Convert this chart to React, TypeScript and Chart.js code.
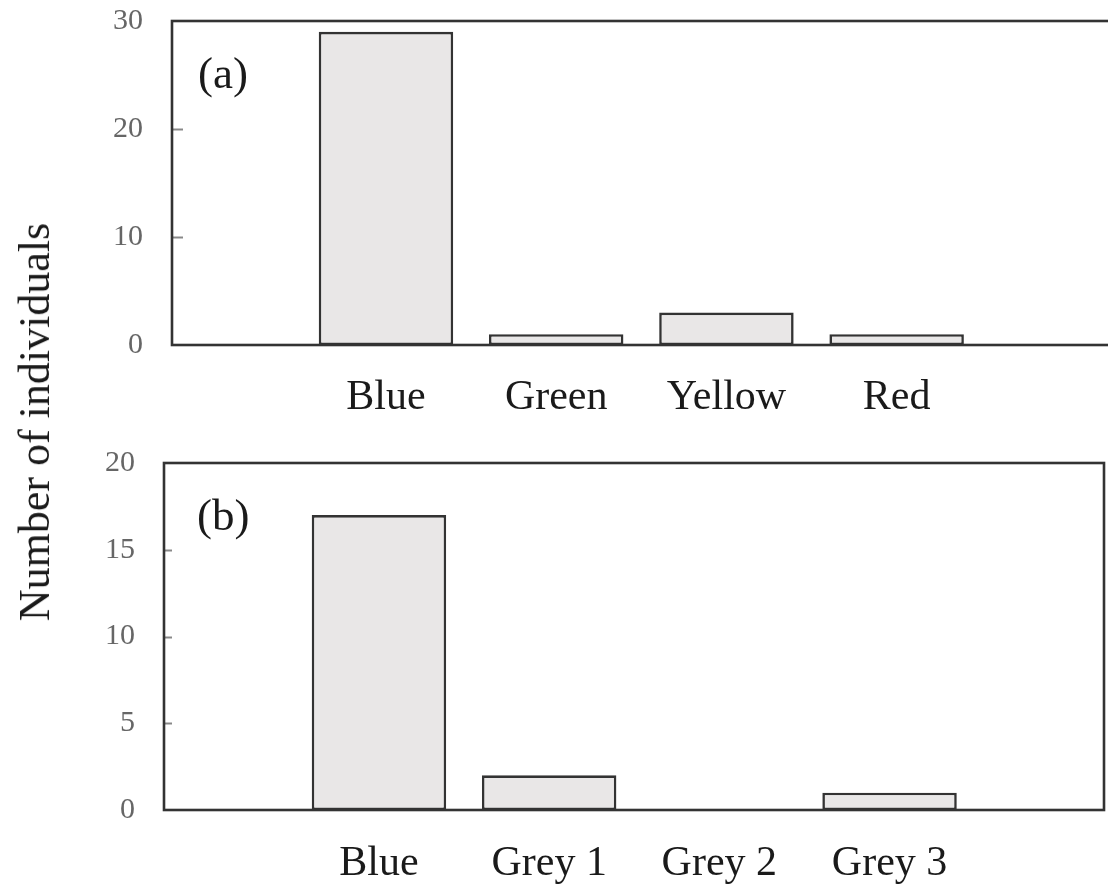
import React, { useEffect, useRef } from "react";
import { Chart, registerables } from "chart.js";

Chart.register(...registerables);

const topCategories = ["Blue", "Green", "Yellow", "Red"];
const topValues = [29, 1, 3, 1];
const topYTicks = [0, 10, 20, 30];

const bottomCategories = ["Blue", "Grey 1", "Grey 2", "Grey 3"];
const bottomValues = [17, 2, 0, 1];
const bottomYTicks = [0, 5, 10, 15, 20];

const yAxisTitle = "Number of individuals";
const panelLabels = ["(a)", "(b)"];

const SERIF = '"Liberation Serif", "Times New Roman", serif';

type PanelProps = {
  categories: string[];
  values: number[];
  yTicks: number[];
  label: string;
  labelDx: number;
  labelDy: number;
  xMin: number;
  xMax: number;
  width: number;
  height: number;
  left: number;
  top: number;
  padTop: number;
  padRight: number;
  yAxisWidth: number;
  xAxisHeight: number;
  xTickPad: number;
  innerTick: number;
};

function Panel(p: PanelProps) {
  const ref = useRef<HTMLCanvasElement | null>(null);
  useEffect(() => {
    if (!ref.current) return;
    const framePlugin = {
      id: "frame",
      afterDatasetsDraw(chart: any) {
        const { ctx, chartArea } = chart;
        const { left, top, right, bottom } = chartArea;
        const yScale = chart.scales.y;
        ctx.save();
        // inward tick marks
        ctx.strokeStyle = "#888";
        ctx.lineWidth = 2;
        p.yTicks.slice(1, -1).forEach((v) => {
          const y = Math.round(yScale.getPixelForValue(v)) + 0.5;
          ctx.beginPath();
          ctx.moveTo(left, y);
          ctx.lineTo(left + p.innerTick, y);
          ctx.stroke();
        });
        ctx.strokeStyle = "#333";
        ctx.lineWidth = 2.6;
        ctx.strokeRect(left, top, right - left, bottom - top);
        ctx.fillStyle = "#1a1a1a";
        ctx.font = `45px ${SERIF}`;
        ctx.textBaseline = "alphabetic";
        ctx.textAlign = "left";
        ctx.fillText(p.label, left + p.labelDx, top + p.labelDy);
        ctx.restore();
      },
    };
    const data = p.values.map((v, i) => ({ x: i + 1, y: v }));
    const yMax = p.yTicks[p.yTicks.length - 1];
    const zeroPad = (scale: any) => {
      scale.paddingTop = 0;
      scale.paddingBottom = 0;
      scale.paddingLeft = 0;
      scale.paddingRight = 0;
    };
    const chart = new Chart(ref.current, {
      type: "bar",
      data: {
        datasets: [
          {
            data: data as any,
            backgroundColor: "#e9e7e7",
            borderColor: "#333",
            borderWidth: 2.6,
            borderSkipped: false,
            categoryPercentage: 1,
            barPercentage: 0.79,
          },
        ],
      },
      options: {
        animation: false,
        responsive: false,
        maintainAspectRatio: false,
        layout: {
          padding: { top: p.padTop, right: p.padRight, left: 0, bottom: 0 },
        },
        plugins: {
          legend: { display: false },
          tooltip: { enabled: false },
          title: { display: false },
        },
        scales: {
          x: {
            type: "linear",
            min: p.xMin,
            max: p.xMax,
            offset: false,
            grid: { display: false, drawTicks: false },
            border: { display: false },
            afterBuildTicks: (scale: any) => {
              scale.ticks = p.categories.map((_, i) => ({ value: i + 1 }));
            },
            afterFit: (scale: any) => {
              scale.height = p.xAxisHeight;
              zeroPad(scale);
            },
            ticks: {
              autoSkip: false,
              maxRotation: 0,
              minRotation: 0,
              padding: p.xTickPad,
              color: "#1a1a1a",
              font: { family: SERIF, size: 42 },
              callback: (v: any) => p.categories[Number(v) - 1] ?? "",
            },
          },
          y: {
            min: 0,
            max: yMax,
            grid: { display: false, drawTicks: false },
            border: { display: false },
            afterBuildTicks: (scale: any) => {
              scale.ticks = p.yTicks.map((v) => ({ value: v }));
            },
            afterFit: (scale: any) => {
              scale.width = p.yAxisWidth;
              zeroPad(scale);
            },
            ticks: {
              padding: 29,
              color: "#666",
              font: { family: SERIF, size: 30 },
            },
          },
        },
      },
      plugins: [framePlugin],
    });
    return () => chart.destroy();
  }, []);
  return (
    <canvas
      ref={ref}
      width={p.width}
      height={p.height}
      style={{
        position: "absolute",
        left: p.left,
        top: p.top,
        width: p.width,
        height: p.height,
      }}
    />
  );
}

export default function App() {
  return (
    <div
      style={{
        position: "absolute",
        left: 0,
        top: 0,
        width: 1108,
        height: 891,
        overflow: "hidden",
        background: "#fff",
      }}
    >
      <Panel
        categories={topCategories}
        values={topValues}
        yTicks={topYTicks}
        label={panelLabels[0]}
        labelDx={26}
        labelDy={67}
        xMin={-0.257}
        xMax={5.6}
        width={1200}
        height={430}
        left={0}
        top={0}
        padTop={21}
        padRight={31}
        yAxisWidth={172}
        xAxisHeight={85}
        xTickPad={28}
        innerTick={11}
      />
      <Panel
        categories={bottomCategories}
        values={bottomValues}
        yTicks={bottomYTicks}
        label={panelLabels[1]}
        labelDx={33}
        labelDy={67}
        xMin={-0.263}
        xMax={5.26}
        width={1108}
        height={461}
        left={0}
        top={430}
        padTop={33}
        padRight={4}
        yAxisWidth={164}
        xAxisHeight={81}
        xTickPad={29}
        innerTick={8}
      />
      <div
        style={{
          position: "absolute",
          left: 35,
          top: 422,
          transform: "translate(-50%, -50%) rotate(-90deg)",
          whiteSpace: "nowrap",
          fontFamily: SERIF,
          fontSize: 44,
          color: "#1a1a1a",
          lineHeight: 1,
        }}
      >
        {yAxisTitle}
      </div>
    </div>
  );
}
